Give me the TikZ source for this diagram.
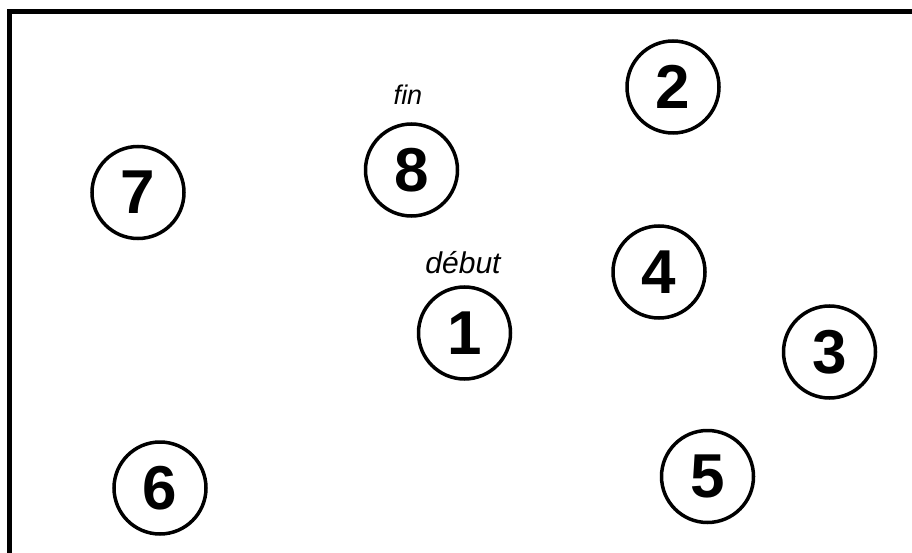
\documentclass[tikz,border=0pt]{standalone}
\usepackage{fontspec}
\setmainfont{Liberation Sans}
\begin{document}
\begin{tikzpicture}[x=1pt,y=-1pt,
  num/.style={circle,draw=black,line width=3.5pt,minimum size=92pt,inner sep=0pt,
    font=\fontsize{62}{62}\selectfont\bfseries},
  lbl/.style={anchor=base,font=\itshape}]
\useasboundingbox (0,0) rectangle (912,553);
\fill[white] (0,0) rectangle (912,553);
\draw[line width=5pt] (9.5,553) -- (9.5,11.5) -- (912,11.5);
\node[num] (n1) at (464.5,333) {1};
\node[num] (n2) at (673,87) {2};
\node[num] (n3) at (829.5,352) {3};
\node[num] (n4) at (659,272) {4};
\node[num] (n5) at (707.5,476.5) {5};
\node[num] (n6) at (160,488) {6};
\node[num] (n7) at (138,192.5) {7};
\node[num] (n8) at (411.5,170) {8};
\node[lbl,font=\fontsize{27}{27}\selectfont\itshape] (fin) at (408,105) {fin};
\node[lbl,font=\fontsize{30}{30}\selectfont\itshape] (debut) at (463,273) {début};
\end{tikzpicture}
\end{document}
